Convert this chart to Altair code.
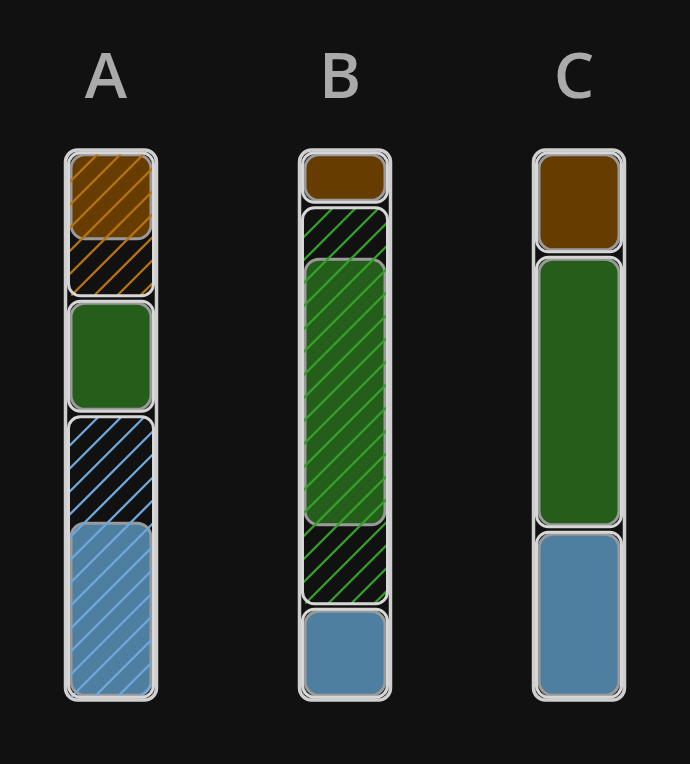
import altair as alt
import pandas as pd
import numpy as np

# ---------------- data ----------------
categories = ["A", "B", "C"]
series = ["S1", "S2", "S3"]          # stacked top -> bottom

# target share of each series (percent, top -> bottom)
target_A = [27, 21, 52]
target_B = [10, 73, 17]
target_C = [19, 50, 31]

# actual range of each series (percent scale, lo, hi)
actual_lo_A = [83, 52, 0]
actual_hi_A = [100, 73, 33]
actual_lo_B = [90, 31, 0]
actual_hi_B = [100, 81, 17]
actual_lo_C = [81, 31, 0]
actual_hi_C = [100, 81, 31]

# ---------------- style ----------------
BG = "#111111"
fill_colors = {"S1": "#663c00", "S2": "#245e1a", "S3": "#4f7fa0"}
hatch_colors = {"S1": "#b8730e", "S2": "#35a02a", "S3": "#6fa8dc"}

W, H = 690, 764
PX_X = 234.0   # pixels per category step
PX_Y = 5.5     # pixels per percent
X_LEFT = -111 / PX_X
xdom = [X_LEFT, X_LEFT + W / PX_X]
ydom = [-(H - 700) / PX_Y, 700 / PX_Y]

OUTER_HALF = 45.5 / PX_X
TARGET_HALF = 42.5 / PX_X
ACTUAL_HALF = 40 / PX_X
GAP = 0.5
HATCH_SPACING = 23.0

targets = {"A": target_A, "B": target_B, "C": target_C}
act_lo = {"A": actual_lo_A, "B": actual_lo_B, "C": actual_lo_C}
act_hi = {"A": actual_hi_A, "B": actual_hi_B, "C": actual_hi_C}

outer_rows, target_rows, actual_rows, hatch_rows, label_rows = [], [], [], [], []
for ci, cat in enumerate(categories):
    outer_rows.append(dict(cat=cat, x0=ci - OUTER_HALF, x1=ci + OUTER_HALF, lo=0, hi=100))
    label_rows.append(dict(cat=cat, x=ci, y=109.5))
    top = 100.0
    for si, s in enumerate(series):
        share = targets[cat][si]
        hi = top
        lo = top - share
        top = lo
        tlo, thi = lo + GAP, hi - GAP
        target_rows.append(dict(cat=cat, series=s, x0=ci - TARGET_HALF, x1=ci + TARGET_HALF,
                                lo=tlo, hi=thi))
        alo, ahi = act_lo[cat][si], act_hi[cat][si]
        actual_rows.append(dict(cat=cat, series=s, x0=ci - ACTUAL_HALF, x1=ci + ACTUAL_HALF,
                                lo=alo + GAP + 0.35, hi=ahi - GAP - 0.35,
                                fillc=fill_colors[s]))
        # hatch where the actual range differs from the target range
        if abs((ahi - alo) - share) > 0.01:
            u0, u1 = -TARGET_HALF * PX_X + 1, TARGET_HALF * PX_X - 1
            v0, v1 = tlo * PX_Y + 1, thi * PX_Y - 1
            c = v0 - u1 + HATCH_SPACING / 2
            while c < v1 - u0:
                ua = max(u0, v0 - c)
                ub = min(u1, v1 - c)
                if ub > ua:
                    hatch_rows.append(dict(cat=cat, series=s,
                                           x0=ci + ua / PX_X, x1=ci + ub / PX_X,
                                           lo=(ua + c) / PX_Y, hi=(ub + c) / PX_Y,
                                           hc=hatch_colors[s]))
                c += HATCH_SPACING

outer_df = pd.DataFrame(outer_rows)
target_df = pd.DataFrame(target_rows)
actual_df = pd.DataFrame(actual_rows)
hatch_df = pd.DataFrame(hatch_rows)
label_df = pd.DataFrame(label_rows)

xs = alt.Scale(domain=xdom, nice=False, zero=False)
ys = alt.Scale(domain=ydom, nice=False, zero=False)

def xy(x="x0:Q", x2="x1:Q", y="lo:Q", y2="hi:Q"):
    return dict(x=alt.X(x, scale=xs, axis=None), x2=alt.X2(x2),
                y=alt.Y(y, scale=ys, axis=None), y2=alt.Y2(y2))

outer = alt.Chart(outer_df).mark_rect(
    fillOpacity=0, stroke="#cfcfcf", strokeWidth=3.5, cornerRadius=12
).encode(**xy())

actual = alt.Chart(actual_df).mark_rect(
    stroke="#9a9a9a", strokeWidth=3, cornerRadius=14
).encode(**xy(), fill=alt.Fill("fillc:N", scale=None))

hatch = alt.Chart(hatch_df).mark_rule(strokeWidth=2.3, strokeCap="round").encode(
    **xy(), color=alt.Color("hc:N", scale=None)
)

target = alt.Chart(target_df).mark_rect(
    fillOpacity=0, stroke="#d6d6d6", strokeWidth=3, cornerRadius=12
).encode(**xy())

labels = alt.Chart(label_df).mark_text(
    font="Open Sans", fontSize=64, fontWeight=600, color="#aaaaaa",
    baseline="alphabetic", align="center", dx=-5
).encode(
    x=alt.X("x:Q", scale=xs, axis=None),
    y=alt.Y("y:Q", scale=ys, axis=None),
    text="cat:N",
)

chart = alt.layer(outer, actual, hatch, target, labels).properties(
    width=W, height=H, background=BG, padding=0,
    autosize=alt.AutoSizeParams(type="none"),
).configure_view(stroke=None)

chart.save("out.html", embed_options={"renderer": "svg", "actions": False})
